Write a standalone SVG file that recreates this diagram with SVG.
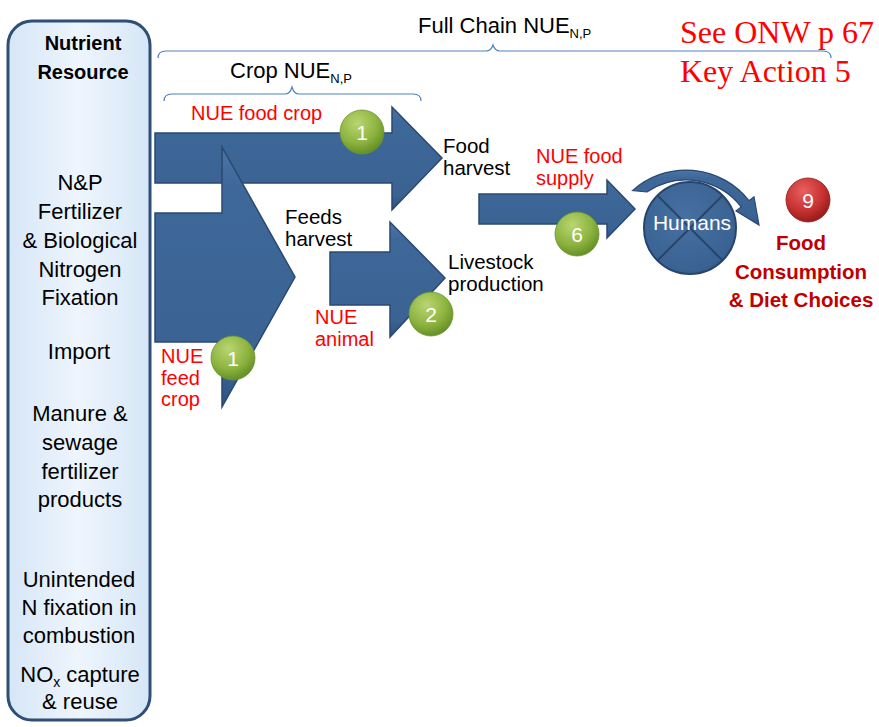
<svg xmlns="http://www.w3.org/2000/svg" width="879" height="727" viewBox="0 0 879 727">
<defs>
<linearGradient id="panelG" x1="0" y1="0" x2="1" y2="0">
<stop offset="0" stop-color="#D6E6F7"/><stop offset="0.5" stop-color="#EEF5FD"/><stop offset="1" stop-color="#D6E6F7"/>
</linearGradient>
<linearGradient id="arrG" x1="0" y1="0" x2="0" y2="1">
<stop offset="0" stop-color="#4B75A7"/><stop offset="0.15" stop-color="#3E6899"/><stop offset="0.85" stop-color="#3A6393"/><stop offset="1" stop-color="#2E5280"/>
</linearGradient>
<radialGradient id="greenG" cx="0.4" cy="0.3" r="0.75">
<stop offset="0" stop-color="#B9D672"/><stop offset="0.6" stop-color="#8DB33F"/><stop offset="1" stop-color="#5E8A22"/>
</radialGradient>
<radialGradient id="redG" cx="0.4" cy="0.3" r="0.75">
<stop offset="0" stop-color="#E86060"/><stop offset="0.6" stop-color="#C73131"/><stop offset="1" stop-color="#8E1818"/>
</radialGradient>
<radialGradient id="humG" cx="0.45" cy="0.4" r="0.7">
<stop offset="0" stop-color="#4670A1"/><stop offset="0.8" stop-color="#3A6393"/><stop offset="1" stop-color="#2B4C77"/>
</radialGradient>
<style>
.t{font-family:"Liberation Sans",Arial,sans-serif;font-size:22px;fill:#000}
.l{font-size:20.5px}
.c{text-anchor:middle}
.r{fill:#FF0000;font-size:20px}
.b{font-weight:bold;font-size:20px}
.dr{fill:#C00000;font-weight:bold;font-size:20.5px;text-anchor:middle}
.arr{fill:url(#arrG);stroke:#2A4870;stroke-width:1.5;stroke-linejoin:miter}
.brace{fill:none;stroke:#4F81BD;stroke-width:1.2}
.gb{fill:url(#greenG);stroke:#6B9530;stroke-width:0.8}
.num{font-family:"Liberation Sans",Arial,sans-serif;font-size:21px;fill:#fff;text-anchor:middle}
.serif{font-family:"Liberation Serif","Times New Roman",serif;font-size:32px;fill:#FF0000}
</style>
</defs>
<rect width="879" height="727" fill="#fff"/>

<g id="panel">
<rect x="8" y="21" width="142" height="699" rx="24" fill="url(#panelG)" stroke="#2F4F75" stroke-width="3"/>
<text class="t b c" x="83" y="50">Nutrient</text>
<text class="t b c" x="83" y="79">Resource</text>
<text class="t c" x="80" y="190">N&amp;P</text>
<text class="t c" x="80" y="219">Fertilizer</text>
<text class="t c" x="80" y="248">&amp; Biological</text>
<text class="t c" x="80" y="277">Nitrogen</text>
<text class="t c" x="80" y="305">Fixation</text>
<text class="t c" x="79" y="359">Import</text>
<text class="t c" x="80" y="421">Manure &amp;</text>
<text class="t c" x="80" y="450">sewage</text>
<text class="t c" x="80" y="479">fertilizer</text>
<text class="t c" x="80" y="507">products</text>
<text class="t c" x="79" y="587">Unintended</text>
<text class="t c" x="79" y="615">N fixation in</text>
<text class="t c" x="79" y="643">combustion</text>
<text class="t c" x="80" y="682">NO<tspan font-size="14" dy="5">x</tspan><tspan dy="-5"> capture</tspan></text>
<text class="t c" x="80" y="709">&amp; reuse</text>
</g>

<g id="braces">
<path class="brace" d="M158,58 Q158,51 166,51 L486,51 Q491,51 493,45 Q495,51 500,51 L823,51 Q831,51 831,58"/>
<path class="brace" d="M164,101 Q164,94 172,94 L285,94 Q290,94 292,87 Q294,94 299,94 L413,94 Q421,94 421,101"/>
<text class="t" x="418" y="33" font-size="19">Full Chain NUE<tspan font-size="13" dy="5">N,P</tspan></text>
<text class="t" x="230" y="78" font-size="19">Crop NUE<tspan font-size="13" dy="5">N,P</tspan></text>
</g>

<g id="note">
<text class="serif" x="680" y="43">See ONW p 67</text>
<text class="serif" x="680" y="82">Key Action 5</text>
</g>

<g id="connectors">
<polygon id="arrow-food-crop" class="arr" points="155,133 392,133 392,107 442,158 392,210 392,183 155,183"/>
<polygon id="arrow-feed-crop" class="arr" points="155,213 222,213 222,147 295,277 222,407 222,342 155,342"/>
<polygon id="arrow-animal" class="arr" points="330,252 390,252 390,222 445,278 390,337 390,305 330,305"/>
<polygon id="arrow-supply" class="arr" points="479,194 607,194 607,180 635,209 607,238 607,224 479,224"/>
</g>

<g id="labels">
<text class="t r" x="191" y="120">NUE food crop</text>
<text class="t l" x="443" y="153">Food</text>
<text class="t l" x="443" y="175">harvest</text>
<text class="t r" x="536" y="163">NUE food</text>
<text class="t r" x="536" y="185">supply</text>
<text class="t l" x="285" y="224">Feeds</text>
<text class="t l" x="285" y="246">harvest</text>
<text class="t l" x="448" y="269">Livestock</text>
<text class="t l" x="448" y="291">production</text>
<text class="t r" x="315" y="324">NUE</text>
<text class="t r" x="315" y="346">animal</text>
<text class="t r" x="161" y="363">NUE</text>
<text class="t r" x="161" y="385">feed</text>
<text class="t r" x="161" y="406">crop</text>
</g>

<g id="badge-1a"><circle class="gb" cx="362" cy="132" r="22"/><text class="num" x="362" y="140">1</text></g>
<g id="badge-1b"><circle class="gb" cx="233" cy="358" r="22"/><text class="num" x="233" y="366">1</text></g>
<g id="badge-2"><circle class="gb" cx="431" cy="314" r="22"/><text class="num" x="431" y="322">2</text></g>
<g id="badge-6"><circle class="gb" cx="577" cy="234" r="22"/><text class="num" x="577" y="242">6</text></g>
<g id="badge-9"><circle cx="808" cy="200" r="22" fill="url(#redG)" stroke="#8E1818" stroke-width="0.8"/><text class="num" x="808" y="208">9</text></g>

<g id="humans">
<circle cx="690" cy="228" r="46" fill="url(#humG)" stroke="#27456C" stroke-width="2"/>
<line x1="658" y1="196" x2="722" y2="260" stroke="#27456C" stroke-width="2"/>
<line x1="722" y1="196" x2="658" y2="260" stroke="#27456C" stroke-width="2"/>
<text class="num" x="692" y="230">Humans</text>
<path d="M632.5,190.6 A80,80 0 0 1 749,200.7 L754,196.8 L759,225 L736,210.9 L741.2,206.9 A70,70 0 0 0 646.9,192 Z" fill="url(#arrG)" stroke="#2A4870" stroke-width="1.2"/>
</g>

<g id="consumption">
<text class="t dr" x="801" y="250">Food</text>
<text class="t dr" x="801" y="279">Consumption</text>
<text class="t dr" x="801" y="307">&amp; Diet Choices</text>
</g>
</svg>
